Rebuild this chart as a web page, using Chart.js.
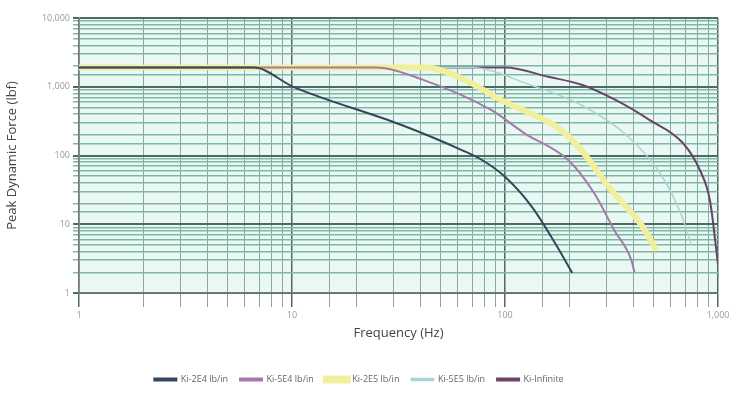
<!DOCTYPE html>
<html>
<head>
<meta charset="utf-8">
<script src="https://cdn.jsdelivr.net/npm/chart.js@4.4.1/dist/chart.umd.min.js"></script>
<style>
  html, body { margin: 0; padding: 0; background: #fff; }
  #wrap { width: 737px; height: 394px; }
</style>
</head>
<body>
<div id="wrap"><canvas id="chart"></canvas></div>
<script>
// Datos (frecuencia en Hz, fuerza en lbf)
const xTickLabels = ['1', '10', '100', '1,000'];
const yTickLabels = ['1', '10', '100', '1,000', '10,000'];

const seriesNames = ['Ki-2E4 lb/in', 'Ki-5E4 lb/in', 'Ki-2E5 lb/in', 'Ki-5E5 lb/in', 'Ki-Infinite'];

const freq2E4 = [1, 6.6, 10.2, 32.7, 62.7, 78, 100, 134, 172, 207];
const force2E4 = [1900, 1900, 990, 278, 120, 86, 49, 17.8, 5.3, 1.95];

const freq5E4 = [1, 24.7, 41.6, 86, 123, 198, 262, 326, 392, 405];
const force5E4 = [1900, 1900, 1250, 460, 212, 86, 28.5, 8.2, 3.0, 2.0];

const freq2E5 = [1, 42.5, 62, 96, 183, 228, 315, 436, 514];
const force2E5 = [1900, 1900, 1340, 640, 235, 120, 31.5, 9.8, 4.2];

const freq5E5 = [1, 69, 132, 228, 371, 542, 673, 750];
const force5E5 = [1900, 1900, 1060, 543, 199, 52, 13.6, 5];

const freqInf = [1, 100, 161, 231, 330, 478, 684, 823, 917, 1000];
const forceInf = [1900, 1900, 1390, 1060, 642, 328, 152, 61, 22, 2.6];

const colores = ['#33475a', '#a27ba9', '#f1ee9c', '#a9d6d3', '#6a4468'];
const anchos = [2, 2, 6, 1.5, 2];

function puntos(xs, ys) {
  return xs.map((x, i) => ({ x: x, y: ys[i] }));
}

const seriesX = [freq2E4, freq5E4, freq2E5, freq5E5, freqInf];
const seriesY = [force2E4, force5E4, force2E5, force5E5, forceInf];

const datasets = seriesNames.map((name, i) => ({
  label: name,
  data: puntos(seriesX[i], seriesY[i]),
  borderColor: colores[i],
  backgroundColor: colores[i],
  borderWidth: anchos[i],
  pointRadius: 0,
  cubicInterpolationMode: 'monotone',
  fill: false
}));

function esDecada(v) {
  const l = Math.log10(v);
  return Math.abs(l - Math.round(l)) < 1e-9;
}

function etiqueta(v, labels) {
  if (!esDecada(v)) return '';
  const idx = Math.round(Math.log10(v));
  return labels[idx] !== undefined ? labels[idx] : '';
}

// fondo del area de trazado
const fondoPlugin = {
  id: 'fondo',
  beforeDraw(chart) {
    const a = chart.chartArea;
    const c = chart.ctx;
    c.save();
    c.fillStyle = '#eaf8f4';
    c.fillRect(a.left, a.top, a.right - a.left, a.bottom - a.top);
    c.restore();
  }
};

new Chart(document.getElementById('chart'), {
  type: 'line',
  data: { datasets: datasets },
  plugins: [fondoPlugin],
  options: {
    responsive: true,
    maintainAspectRatio: false,
    animation: false,
    layout: { padding: { top: 18, right: 19, left: 0, bottom: 0 } },
    plugins: {
      legend: {
        position: 'bottom',
        labels: {
          boxWidth: 22,
          boxHeight: 2,
          padding: 12,
          color: '#666',
          font: { family: 'Open Sans', size: 9 }
        }
      },
      tooltip: { enabled: false }
    },
    scales: {
      x: {
        type: 'logarithmic',
        min: 1,
        max: 1000,
        afterFit: (s) => { s.height = 70; },
        title: {
          display: true,
          text: 'Frequency (Hz)',
          color: '#444',
          font: { family: 'Open Sans', size: 13 },
          padding: { top: 4, bottom: 22 }
        },
        ticks: {
          autoSkip: false,
          maxRotation: 0,
          color: '#999',
          font: { family: 'Open Sans', size: 9 },
          callback: (v) => etiqueta(v, xTickLabels)
        },
        border: { color: '#777', width: 1.5 },
        grid: {
          color: (ctx) => (ctx.tick && esDecada(ctx.tick.value)) ? '#4f6a66' : '#8aa8a3',
          lineWidth: (ctx) => (ctx.tick && esDecada(ctx.tick.value)) ? 1.5 : 1,
          tickLength: 14
        }
      },
      y: {
        type: 'logarithmic',
        min: 1,
        max: 10000,
        afterFit: (s) => { s.width = 79; },
        title: {
          display: true,
          text: 'Peak Dynamic Force (lbf)',
          color: '#444',
          font: { family: 'Open Sans', size: 13 },
          padding: { bottom: 14 }
        },
        ticks: {
          autoSkip: false,
          color: '#999',
          font: { family: 'Open Sans', size: 9 },
          callback: (v) => etiqueta(v, yTickLabels)
        },
        border: { color: '#777', width: 1.5 },
        grid: {
          color: (ctx) => (ctx.tick && esDecada(ctx.tick.value)) ? '#4f6a66' : '#7fb7a6',
          lineWidth: (ctx) => (ctx.tick && esDecada(ctx.tick.value)) ? 2 : 1.5,
          tickLength: 6
        }
      }
    }
  }
});
</script>
</body>
</html>
